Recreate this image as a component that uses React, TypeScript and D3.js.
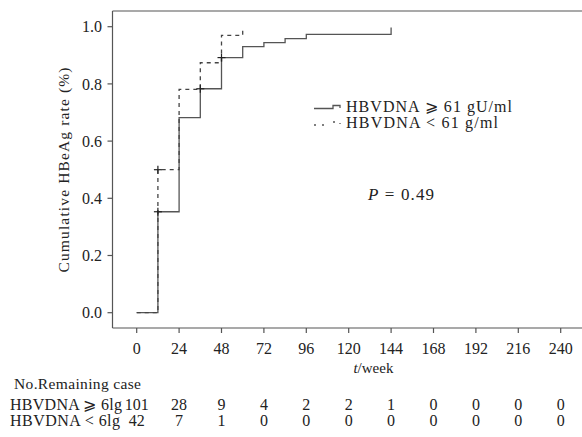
import React from 'react';
import * as d3 from 'd3';

// Kaplan-Meier step data (weeks, cumulative rate)
const highTimes = [0, 12, 24, 36, 48, 60, 72, 84, 96, 144];
const highRates = [0, 0.353, 0.682, 0.783, 0.892, 0.930, 0.944, 0.958, 0.973, 0.997];
const highCensor = [12, 36, 48];

const lowTimes = [0, 12, 24, 36, 48, 60];
const lowRates = [0, 0.5, 0.781, 0.874, 0.970, 1.0];
const lowCensor = [12];

const xTicks = [0, 24, 48, 72, 96, 120, 144, 168, 192, 216, 240];
const yTicks = [0, 0.2, 0.4, 0.6, 0.8, 1.0];

const riskHigh = [101, 28, 9, 4, 2, 2, 1, 0, 0, 0, 0];
const riskLow = [42, 7, 1, 0, 0, 0, 0, 0, 0, 0, 0];

const W = 582;
const H = 437;
const font = 'Liberation Serif, DejaVu Serif, Times New Roman, serif';

const stepPath = (times: number[], rates: number[], x: d3.ScaleLinear<number, number>, y: d3.ScaleLinear<number, number>) => {
  const pts: [number, number][] = times.map((t, i) => [x(t), y(rates[i])]);
  return d3.line().curve(d3.curveStepAfter)(pts) || '';
};

const rateAt = (times: number[], rates: number[], t: number) => {
  let r = 0;
  times.forEach((tt, i) => { if (tt <= t) r = rates[i]; });
  return r;
};

export default function App() {
  const x = d3.scaleLinear().domain([0, 240]).range([136.7, 560.7]);
  const y = d3.scaleLinear().domain([0, 1]).range([312.7, 26.7]);
  const left = 112.5;
  const top = 11;
  const bottom = 328;
  const axisColor = '#555';
  const txt = { fontFamily: font, fill: '#222' };

  const cross = (cx: number, cy: number, key: string) => (
    <g key={key} stroke="#222" strokeWidth={1.2}>
      <line x1={cx - 4} x2={cx + 4} y1={cy} y2={cy} />
      <line x1={cx} x2={cx} y1={cy - 4} y2={cy + 4} />
    </g>
  );

  return (
    <svg width={W} height={H} style={{ position: 'absolute', left: 0, top: 0, background: '#fff', fontFamily: font }}>
      {/* frame */}
      <line x1={left} x2={W} y1={top} y2={top} stroke={axisColor} strokeWidth={1.2} />
      <line x1={left} x2={left} y1={top} y2={bottom} stroke={axisColor} strokeWidth={1.2} />
      <line x1={left} x2={W} y1={bottom} y2={bottom} stroke={axisColor} strokeWidth={1.2} />

      {/* y axis */}
      {yTicks.map(t => (
        <g key={'y' + t}>
          <line x1={left - 5} x2={left} y1={y(t)} y2={y(t)} stroke={axisColor} strokeWidth={1.2} />
          <text x={102} y={y(t)} dy="0.35em" textAnchor="end" fontSize={16} style={txt}>{t.toFixed(1)}</text>
        </g>
      ))}
      <text transform={`translate(69,170) rotate(-90)`} textAnchor="middle" fontSize={15.5} textLength={205} lengthAdjust="spacing" style={txt}>
        Cumulative HBeAg rate (%)
      </text>

      {/* x axis */}
      {xTicks.map(t => (
        <g key={'x' + t}>
          <line x1={x(t)} x2={x(t)} y1={bottom} y2={bottom + 5} stroke={axisColor} strokeWidth={1.2} />
          <text x={x(t)} y={354} textAnchor="middle" fontSize={16} style={txt}>{t}</text>
        </g>
      ))}
      <text x={x(134)} y={373} textAnchor="middle" fontSize={15} style={txt}>
        <tspan fontStyle="italic">t</tspan>/week
      </text>

      {/* curves */}
      <path d={stepPath(highTimes, highRates, x, y)} fill="none" stroke="#555" strokeWidth={1.3} />
      <path d={stepPath(lowTimes, lowRates, x, y)} fill="none" stroke="#444" strokeWidth={1.3} strokeDasharray="4,4" />
      {highCensor.map(t => cross(x(t), y(rateAt(highTimes, highRates, t)), 'hc' + t))}
      {lowCensor.map(t => cross(x(t), y(rateAt(lowTimes, lowRates, t)), 'lc' + t))}

      {/* legend */}
      <path d="M314,108.5 L333,108.5 L333,105.5 L340,105.5 L340,108" fill="none" stroke="#555" strokeWidth={1.3} />
      <path d="M314,125 L327,125 M333,122 L340,122 L340,124" fill="none" stroke="#555" strokeWidth={1.3} strokeDasharray="2,6" />
      <text x={346} y={112} fontSize={16} textLength={166} lengthAdjust="spacing" style={txt}>HBVDNA ⩾ 61 gU/ml</text>
      <text x={346} y={128} fontSize={16} textLength={152} lengthAdjust="spacing" style={txt}>HBVDNA &lt; 61 g/ml</text>

      <text x={368} y={200} fontSize={17} textLength={66} lengthAdjust="spacing" style={txt}>
        <tspan fontStyle="italic">P</tspan> = 0.49
      </text>

      {/* risk table */}
      <text x={14} y={389} fontSize={15.5} textLength={127} lengthAdjust="spacing" style={txt}>No.Remaining case</text>
      <text x={10} y={410} fontSize={16} textLength={112} lengthAdjust="spacing" style={txt}>HBVDNA ⩾ 6lg</text>
      <text x={10} y={426} fontSize={16} textLength={110} lengthAdjust="spacing" style={txt}>HBVDNA &lt; 6lg</text>
      {riskHigh.map((v, i) => (
        <text key={'rh' + i} x={x(xTicks[i])} y={410} textAnchor="middle" fontSize={16} style={txt}>{v}</text>
      ))}
      {riskLow.map((v, i) => (
        <text key={'rl' + i} x={x(xTicks[i])} y={426} textAnchor="middle" fontSize={16} style={txt}>{v}</text>
      ))}
    </svg>
  );
}
